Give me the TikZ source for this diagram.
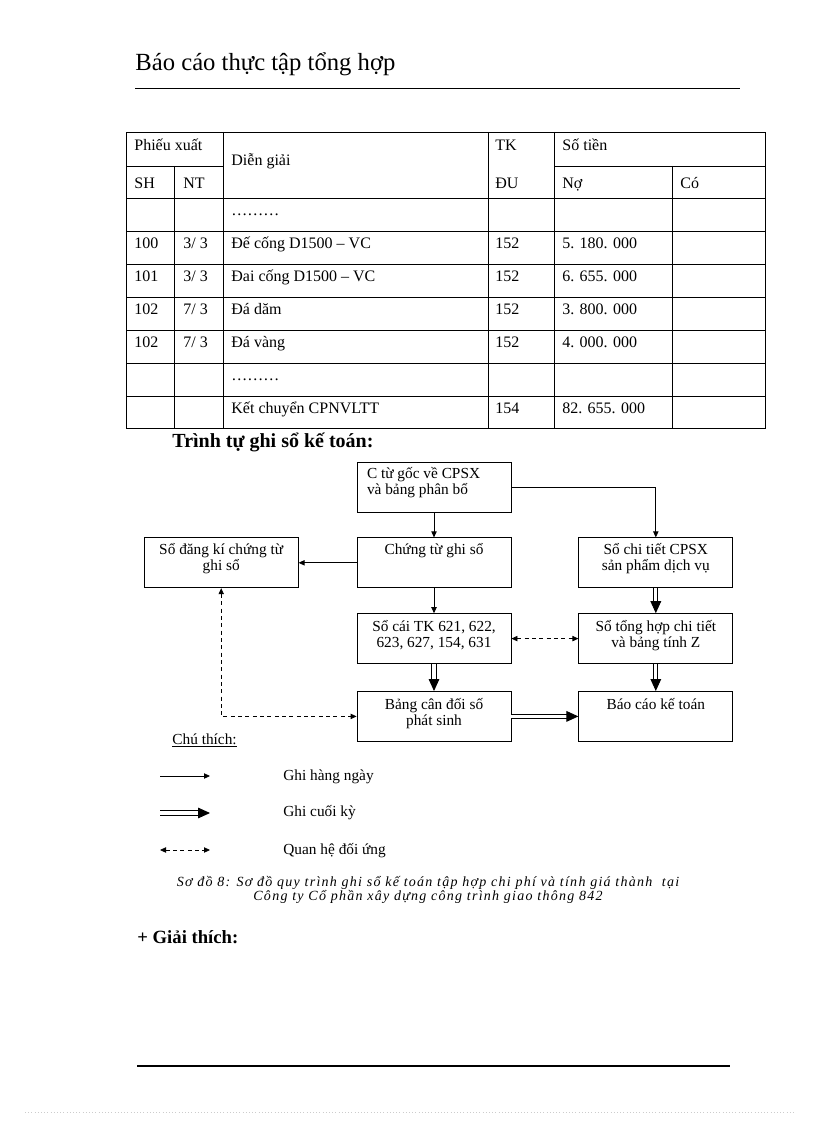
\documentclass[tikz,border=0pt]{standalone}
\usepackage{fontspec}
\setmainfont{Liberation Serif}
\newfontfamily\capfam[LetterSpace=9]{Liberation Serif}
\usetikzlibrary{arrows.meta,positioning}
\newcommand\hdrfont{\fontsize{18.5}{22}\selectfont}
\newcommand\tabfont{\fontsize{12}{14}\selectfont}
\newcommand\diafont{\fontsize{11.5}{12}\selectfont}
\newcommand\headfont{\fontsize{15}{17}\selectfont\bfseries}
\newcommand\capfont{\capfam\fontsize{10.5}{10.5}\selectfont\itshape}

\begin{document}
\begin{tikzpicture}[
  x=0.75pt, y=-0.75pt,
  node distance=18.75pt,
  line width=0.6pt,
  every node/.style={inner sep=0pt},
  tabcell/.style={anchor=base west, font=\tabfont},
  flowbox/.style={draw, minimum width=115.5pt, minimum height=37.5pt},
  boxlabel/.style={anchor=base, align=center, font=\diafont},
  daily/.style={-{Triangle[length=4.5pt,width=4pt]}},
  period/.style={double, line width=0.7pt, double distance=2.4pt, -{Triangle[length=9pt,width=8pt]}},
  mutual/.style={dash pattern=on 3pt off 2.5pt, {Triangle[length=4.5pt,width=4pt]}-{Triangle[length=4.5pt,width=4pt]}}
]
\useasboundingbox (0,0) rectangle (816,1123);
% running header
\node[anchor=base west, font=\hdrfont] (title) at (135,71) {Báo cáo thực tập tổng hợp};
\draw (135,88) -- (740,88);

% table grid
\draw (126,132) rectangle (765,428);
\foreach \y in {198,231,264,297,330,363,396}
  \draw (126,\y) -- (765,\y);
\draw (126,166) -- (223,166) (554,166) -- (765,166);
\foreach \x in {223,488,554}
  \draw (\x,132) -- (\x,428);
\draw (174,166) -- (174,428) (672,166) -- (672,428);

% table head
\node[tabcell] (phieu) at (134,151) {Phiếu xuất};
\node[tabcell] (sh) at (134,189) {SH};
\node[tabcell] (nt) at (183,189) {NT};
\node[tabcell] (diengiai) at (231,166) {Diễn giải};
\node[tabcell] (tk) at (495,151) {TK};
\node[tabcell] (du) at (495,189) {ĐU};
\node[tabcell] (sotien) at (562,151) {Số tiền};
\node[tabcell] (no) at (562,189) {Nợ};
\node[tabcell] (co) at (680,189) {Có};

% table rows
\foreach \vsh/\vnt/\vdg/\vtk/\vno [count=\r] in {
    {}/{}/{………}/{}/{},
    100/{3/ 3}/{Đế cống D1500 – VC}/152/{5. 180. 000},
    101/{3/ 3}/{Đai cống D1500 – VC}/152/{6. 655. 000},
    102/{7/ 3}/{Đá dăm}/152/{3. 800. 000},
    102/{7/ 3}/{Đá vàng}/152/{4. 000. 000},
    {}/{}/{………}/{}/{},
    {}/{}/{Kết chuyển CPNVLTT}/154/{82. 655. 000}} {
  \pgfmathsetmacro\yb{215+33*(\r-1)}
  \node[tabcell] (sh\r) at (134,\yb) {\vsh};
  \node[tabcell] (nt\r) at (183,\yb) {\vnt};
  \node[tabcell] (dg\r) at (231,\yb) {\vdg};
  \node[tabcell] (tk\r) at (495,\yb) {\vtk};
  \node[tabcell] (no\r) at (562,\yb) {\vno};
}

\node[anchor=base west, font=\headfont] (trinhtu) at (172,447) {Trình tự ghi sổ kế toán:};

% flow boxes
\node[flowbox] (goc) at (434,487) {};
\node[flowbox, below=of goc] (ctgs) {};
\node[flowbox, left=43.5pt of ctgs] (dangki) {};
\node[flowbox, right=50.25pt of ctgs] (chitiet) {};
\node[flowbox, below=of ctgs] (socai) {};
\node[flowbox, right=50.25pt of socai] (tonghop) {};
\node[flowbox, below=20.25pt of socai] (candoi) {};
\node[flowbox, right=50.25pt of candoi] (baocao) {};

% labels: base is the last line, so two-line labels sit 12pt lower
\node[boxlabel, anchor=base west, align=left] (goctxt) at ([xshift=7.5pt,yshift=-25pt]goc.north west) {C từ gốc về CPSX\\và bảng phân bổ};
\node[boxlabel] (ctgstxt) at ([yshift=-13pt]ctgs.north) {Chứng từ ghi sổ};
\node[boxlabel] (dangkitxt) at ([yshift=-25pt]dangki.north) {Sổ đăng kí chứng từ\\ghi sổ};
\node[boxlabel] (chitiettxt) at ([yshift=-25pt]chitiet.north) {Sổ chi tiết CPSX\\sản phẩm dịch vụ};
\node[boxlabel] (socaitxt) at ([yshift=-25.5pt]socai.north) {Sổ cái TK 621, 622,\\623, 627, 154, 631};
\node[boxlabel] (tonghoptxt) at ([yshift=-25.5pt]tonghop.north) {Sổ tổng hợp chi tiết\\và bảng tính Z};
\node[boxlabel] (candoitxt) at ([yshift=-25.5pt]candoi.north) {Bảng cân đối số\\phát sinh};
\node[boxlabel] (baocaotxt) at ([yshift=-13.5pt]baocao.north) {Báo cáo kế toán};

% connectors
\draw[daily] (goc) -- (ctgs);
\draw[daily] (goc.east) -| (chitiet.north);
\draw[daily] (ctgs) -- (dangki);
\draw[daily] (ctgs) -- (socai);
\draw[period] (chitiet) -- (tonghop);
\draw[period] (socai) -- (candoi);
\draw[period] (tonghop) -- (baocao);
\draw[period] (candoi) -- (baocao);
\draw[mutual] (socai) -- (tonghop);
\draw[mutual] (dangki.south) |- (candoi.west);

% legend
\node[anchor=base west, font=\diafont] (chuthich) at (172,744) {\underline{Chú thích:}};
\coordinate (l1a) at (160,776); \coordinate (l1b) at (210,776);
\coordinate (l2a) at (160,813); \coordinate (l2b) at (210,813);
\coordinate (l3a) at (160,850); \coordinate (l3b) at (210,850);
\draw[daily] (l1a) -- (l1b);
\draw[period] (l2a) -- (l2b);
\draw[mutual] (l3a) -- (l3b);
\node[anchor=base west, font=\diafont] (ghi1) at (283,780) {Ghi hàng ngày};
\node[anchor=base west, font=\diafont] (ghi2) at (283,816) {Ghi cuối kỳ};
\node[anchor=base west, font=\diafont] (ghi3) at (283,854) {Quan hệ đối ứng};

\node[font=\capfont, align=center] (caption) at (428,890) {Sơ đồ 8: Sơ đồ quy trình ghi sổ kế toán tập hợp chi phí và tính giá thành~ tại\\Công ty Cổ phần xây dựng công trình giao thông 842};

\node[anchor=base west, font=\fontsize{14}{17}\selectfont\bfseries] (giaithich) at (137,943) {+ Giải thích:};

% footer
\draw[line width=1pt] (137,1066) -- (730,1066);
\draw[gray!40, dotted, line width=0.4pt] (25,1112) -- (795,1112);
\end{tikzpicture}
\end{document}
